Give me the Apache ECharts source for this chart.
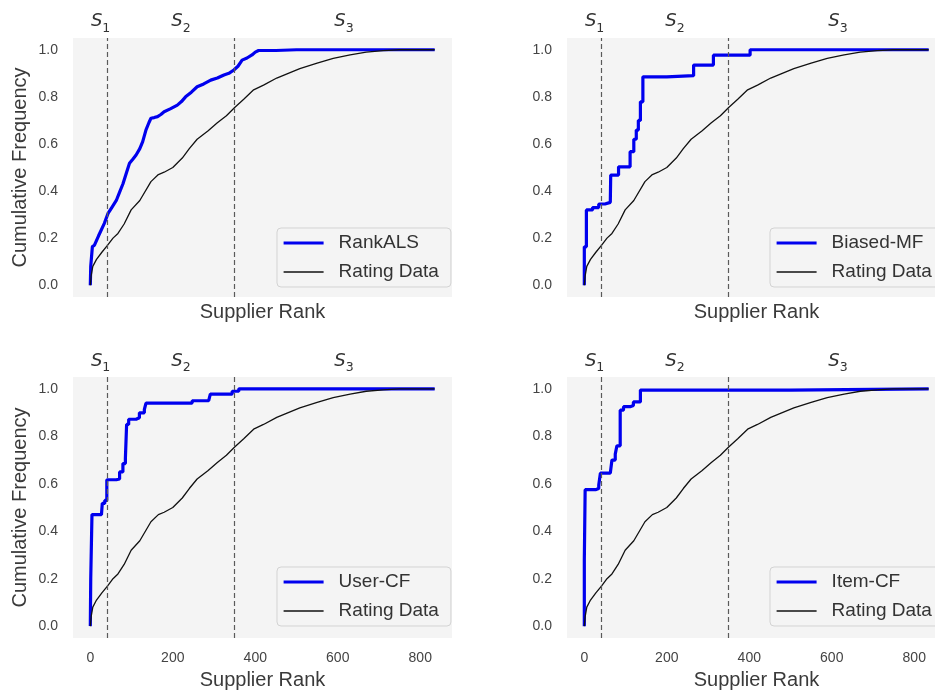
<!DOCTYPE html>
<html>
<head>
<meta charset="utf-8">
<script src="https://cdn.jsdelivr.net/npm/echarts@6/dist/echarts.min.js"></script>
<style>
html,body{margin:0;padding:0;background:#fff;}
#c{width:935px;height:696px;}
</style>
</head>
<body>
<div id="c"></div>
<script>
// ---- data ----
const methodNames = ['RankALS', 'Biased-MF', 'User-CF', 'Item-CF'];
const xTicks = [0, 200, 400, 600, 800];
const yTicks = [0, 0.2, 0.4, 0.6, 0.8, 1.0];
const segmentBounds = [42, 350];
const segmentLabelX = [25, 220, 615];
const segmentLabels = ['1', '2', '3'];

const ratingData = [[0,0.0],[2,0.04],[6,0.08],[15,0.11],[28,0.14],[42,0.17],[55,0.20],[67,0.22],[82,0.26],[99,0.32],[120,0.36],[147,0.44],[165,0.47],[179,0.48],[200,0.50],[223,0.54],[240,0.58],[259,0.62],[285,0.655],[308,0.69],[330,0.72],[350,0.755],[372,0.79],[396,0.83],[420,0.85],[452,0.88],[480,0.90],[508,0.92],[550,0.943],[589,0.963],[630,0.978],[669,0.99],[710,0.996],[749,1.0],[790,1.0],[835,1.0]];

const rankALS = [[0,0.0],[1,0.08],[5,0.164],[10,0.17],[20,0.21],[34,0.263],[43,0.305],[52,0.33],[63,0.36],[72,0.40],[79,0.43],[88,0.48],[95,0.518],[103,0.535],[111,0.553],[120,0.58],[127,0.61],[135,0.66],[142,0.69],[147,0.709],[155,0.712],[163,0.716],[171,0.725],[179,0.737],[195,0.75],[211,0.765],[221,0.78],[231,0.80],[245,0.82],[259,0.843],[275,0.855],[292,0.871],[308,0.88],[324,0.893],[336,0.90],[348,0.914],[358,0.93],[368,0.956],[380,0.965],[392,0.978],[400,0.99],[408,0.997],[450,0.997],[500,1.0],[600,1.0],[700,1.0],[835,1.0]];

const biasedMF = [[0,0],[0,0.163],[5,0.32],[20,0.33],[35,0.345],[50,0.352],[63,0.359],[64,0.468],[83,0.503],[111,0.567],[120,0.62],[126,0.659],[131,0.70],[136,0.779],[142,0.885],[200,0.89],[265,0.935],[313,0.977],[402,1.0],[835,1.0]];

const userCF = [[0,0],[1,0.2],[4,0.47],[27,0.475],[29,0.517],[35,0.53],[40,0.617],[63,0.62],[71,0.65],[79,0.685],[85,0.705],[88,0.85],[93,0.872],[111,0.878],[119,0.899],[131,0.913],[135,0.94],[247,0.95],[287,0.957],[291,0.978],[344,0.99],[360,1.0],[835,1.0]];

const itemCF = [[0,0],[0,0.28],[2,0.575],[27,0.58],[35,0.595],[39,0.645],[63,0.65],[67,0.70],[75,0.725],[79,0.76],[87,0.91],[95,0.925],[111,0.93],[119,0.945],[136,0.995],[500,1.0],[835,1.0]];

const methodData = [rankALS, biasedMF, userCF, itemCF];
const methodStep = [false, 'end', 'end', 'end'];

// ---- layout ----
const FONT = '"Liberation Sans", Arial, sans-serif';
const grids = [
  {left:73, top:38, width:379, height:259},
  {left:567, top:38, width:379, height:259},
  {left:73, top:377, width:379, height:261},
  {left:567, top:377, width:379, height:261}
];
const legendPos = [
  {left:277, top:228}, {left:770, top:228},
  {left:277, top:567}, {left:770, top:567}
];

const option = {
  animation:false,
  backgroundColor:'#ffffff',
  grid: grids.map(g => Object.assign({show:true, backgroundColor:'#f4f4f4', borderWidth:0, outerBoundsMode:'none', containLabel:false}, g)),
  xAxis: grids.map((g,i) => ({
    gridIndex:i, type:'value', min:-42, max:877,
    axisLine:{show:false}, axisTick:{show:false}, splitLine:{show:false},
    axisLabel:{show: i>=2, customValues: xTicks, margin:13, color:'#444', fontSize:14, fontFamily:FONT},
    name:'Supplier Rank', nameLocation:'middle', nameGap: i>=2 ? 32 : 5,
    nameTextStyle:{fontSize:20, color:'#3a3a3a', fontFamily:FONT}
  })),
  yAxis: grids.map((g,i) => ({
    gridIndex:i, type:'value', min:-0.05, max:1.05,
    axisLine:{show:false}, axisTick:{show:false}, splitLine:{show:false},
    axisLabel:{customValues: yTicks, margin:15, color:'#444', fontSize:14, fontFamily:FONT,
      formatter: v => v.toFixed(1)},
    name: i%2===0 ? 'Cumulative Frequency' : '', nameLocation:'middle', nameGap:43,
    nameTextStyle:{fontSize:20, color:'#3a3a3a', fontFamily:FONT}
  })),
  legend: methodNames.map((m,i) => ({
    data:[m, 'Rating Data'], orient:'vertical',
    left:legendPos[i].left, top:legendPos[i].top,
    itemWidth:40, itemHeight:14, itemGap:9,
    padding:[5,12,5,5],
    itemStyle:{color:'rgba(0,0,0,0)', borderWidth:0, opacity:0},
    lineStyle:{width:'inherit'},
    backgroundColor:'#f4f4f4', borderColor:'#d3d3d3', borderWidth:1, borderRadius:4,
    textStyle:{fontSize:19, color:'#333', fontFamily:FONT, lineHeight:20, padding:[0,0,0,10]},
    selectedMode:false
  })),
  series: []
};

methodNames.forEach((m,i) => {
  option.series.push({
    name:m, type:'line', xAxisIndex:i, yAxisIndex:i,
    data: methodData[i], step: methodStep[i], symbol:'none',
    lineStyle:{color:'#0000ee', width:3.2}, itemStyle:{color:'#0000ee'}, z:2
  });
  option.series.push({
    name:'Rating Data', type:'line', xAxisIndex:i, yAxisIndex:i,
    data: ratingData, symbol:'none',
    lineStyle:{color:'#111', width:1.3}, itemStyle:{color:'#111'}, z:3,
    markLine:{
      silent:true, symbol:'none', label:{show:false},
      lineStyle:{color:'#5a5a5a', type:[5,3], width:1.2},
      data: segmentBounds.map(b => ({xAxis:b}))
    },
    markPoint:{
      silent:true, symbol:'circle', symbolSize:0,
      label:{show:true, position:'inside', offset:[0,-28], color:'#333',
        rich:{
          s:{fontFamily:'"DejaVu Sans"', fontStyle:'italic', fontSize:18, lineHeight:26, verticalAlign:'middle', color:'#333'},
          n:{fontFamily:'"DejaVu Sans"', fontSize:12.5, lineHeight:13, verticalAlign:'bottom', color:'#333'}
        }},
      data: segmentLabelX.map((x,k) => ({coord:[x,1.0], label:{formatter:'{s|S}{n|' + segmentLabels[k] + '}'}}))
    }
  });
});

const chart = echarts.init(document.getElementById('c'), null, {renderer:'canvas'});
chart.setOption(option);
</script>
</body>
</html>
